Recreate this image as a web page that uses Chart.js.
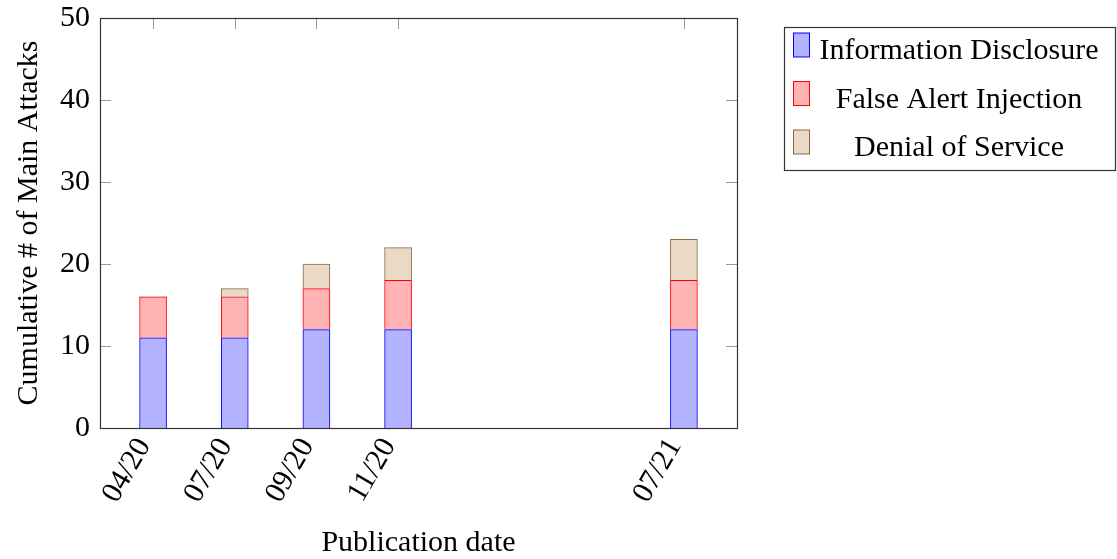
<!DOCTYPE html>
<html>
<head>
<meta charset="utf-8">
<script src="https://cdn.jsdelivr.net/npm/chart.js@4.4.1/dist/chart.umd.min.js"></script>
<style>
  html, body { margin:0; padding:0; background:#fff; }
  #wrap { width:1117px; height:559px; }
</style>
</head>
<body>
<div id="wrap"><canvas id="ataquesChart" width="1117" height="559"></canvas></div>
<script>
const fechas = ["04/20", "07/20", "09/20", "11/20", "07/21"];
const posiciones = [0, 1, 2, 3, 6.5];
const infoDisclosure = [11, 11, 12, 12, 12];
const falseAlert = [5, 5, 5, 6, 6];
const denialService = [0, 1, 3, 4, 5];
const yTicks = [0, 10, 20, 30, 40, 50];

const fuente = "'Liberation Serif', 'DejaVu Serif', serif";
const tam = 30;

const series = [
  { label: "Information Disclosure", valores: infoDisclosure, fondo: "#b3b3ff", borde: "#0000ff" },
  { label: "False Alert Injection", valores: falseAlert, fondo: "#ffb3b3", borde: "#ff0000" },
  { label: "Denial of Service", valores: denialService, fondo: "#ead9c6", borde: "#8c6a48" }
];

// marco + ticks hacia dentro (estilo pgfplots)
const marcoEjes = {
  id: "marcoEjes",
  beforeDatasetsDraw(chart) {
    const { ctx, chartArea: a, scales } = chart;
    ctx.save();
    ctx.strokeStyle = "#9a9a9a";
    ctx.lineWidth = 1;
    ctx.beginPath();
    yTicks.forEach(v => {
      const y = Math.round(scales.y.getPixelForValue(v)) + 0.5;
      ctx.moveTo(a.left, y); ctx.lineTo(a.left + 11, y);
      ctx.moveTo(a.right, y); ctx.lineTo(a.right - 11, y);
    });
    posiciones.forEach(v => {
      const x = Math.round(scales.x.getPixelForValue(v)) + 0.5;
      ctx.moveTo(x, a.top); ctx.lineTo(x, a.top + 11);
      ctx.moveTo(x, a.bottom); ctx.lineTo(x, a.bottom - 11);
    });
    ctx.stroke();
    ctx.restore();
  },
  afterDatasetsDraw(chart) {
    const { ctx, chartArea: a } = chart;
    ctx.save();
    ctx.strokeStyle = "#333";
    ctx.lineWidth = 1.2;
    ctx.strokeRect(a.left + 0.5, a.top + 0.5, a.right - a.left, a.bottom - a.top);
    ctx.restore();
  }
};

// leyenda con caja a la derecha
const leyendaCaja = {
  id: "leyendaCaja",
  afterDraw(chart) {
    const ctx = chart.ctx;
    ctx.save();
    ctx.strokeStyle = "#333";
    ctx.lineWidth = 1.2;
    ctx.strokeRect(784.5, 27.5, 331, 143);
    ctx.font = tam + "px " + fuente;
    ctx.textAlign = "center";
    ctx.textBaseline = "alphabetic";
    const base = [59, 107.5, 156];
    series.forEach((s, i) => {
      ctx.fillStyle = s.fondo;
      ctx.fillRect(793.5, base[i] - 26, 16, 24);
      ctx.strokeStyle = s.borde;
      ctx.lineWidth = 1;
      ctx.strokeRect(793.5, base[i] - 26, 16, 24);
      ctx.fillStyle = "#000";
      ctx.fillText(s.label, 959, base[i]);
    });
    ctx.restore();
  }
};

const ctx = document.getElementById("ataquesChart").getContext("2d");

const ataquesChart = new Chart(ctx, {
  type: "bar",
  data: {
    datasets: series.map(s => ({
      label: s.label,
      data: posiciones.map((x, i) => ({ x: x, y: s.valores[i] })),
      backgroundColor: s.fondo,
      borderColor: s.borde,
      borderWidth: c => (c.raw && c.raw.y === 0 ? 0 : 1),
      barThickness: 27
    }))
  },
  options: {
    responsive: false,
    animation: false,
    devicePixelRatio: 1,
    layout: { padding: { top: 18, right: 380, left: 0, bottom: 0 } },
    plugins: { legend: { display: false }, tooltip: { enabled: false } },
    scales: {
      x: {
        type: "linear",
        min: -0.65,
        max: 7.15,
        offset: false,
        stacked: true,
        grid: { display: false, drawTicks: false, offset: false },
        border: { display: false },
        afterBuildTicks: s => { s.ticks = posiciones.map(v => ({ value: v })); },
        afterFit: s => { s.height = 131; s.paddingLeft = 0; s.paddingRight = 0; },
        ticks: {
          autoSkip: false,
          minRotation: 60,
          maxRotation: 60,
          padding: 4,
          labelOffset: -9,
          color: "#000",
          font: { family: fuente, size: tam },
          callback: v => fechas[posiciones.indexOf(v)]
        },
        title: {
          display: true,
          text: "Publication date",
          color: "#000",
          font: { family: fuente, size: tam },
          padding: { bottom: -2 }
        }
      },
      y: {
        min: 0,
        max: 50,
        stacked: true,
        grid: { display: false, drawTicks: false },
        border: { display: false },
        afterBuildTicks: s => { s.ticks = yTicks.map(v => ({ value: v })); },
        afterFit: s => { s.width = 100; s.paddingTop = 0; s.paddingBottom = 0; },
        ticks: {
          padding: 10,
          color: "#000",
          font: { family: fuente, size: tam }
        },
        title: {
          display: true,
          text: "Cumulative # of Main Attacks",
          color: "#000",
          font: { family: fuente, size: tam },
          padding: { top: 11 }
        }
      }
    }
  },
  plugins: [marcoEjes, leyendaCaja]
});
</script>
</body>
</html>
